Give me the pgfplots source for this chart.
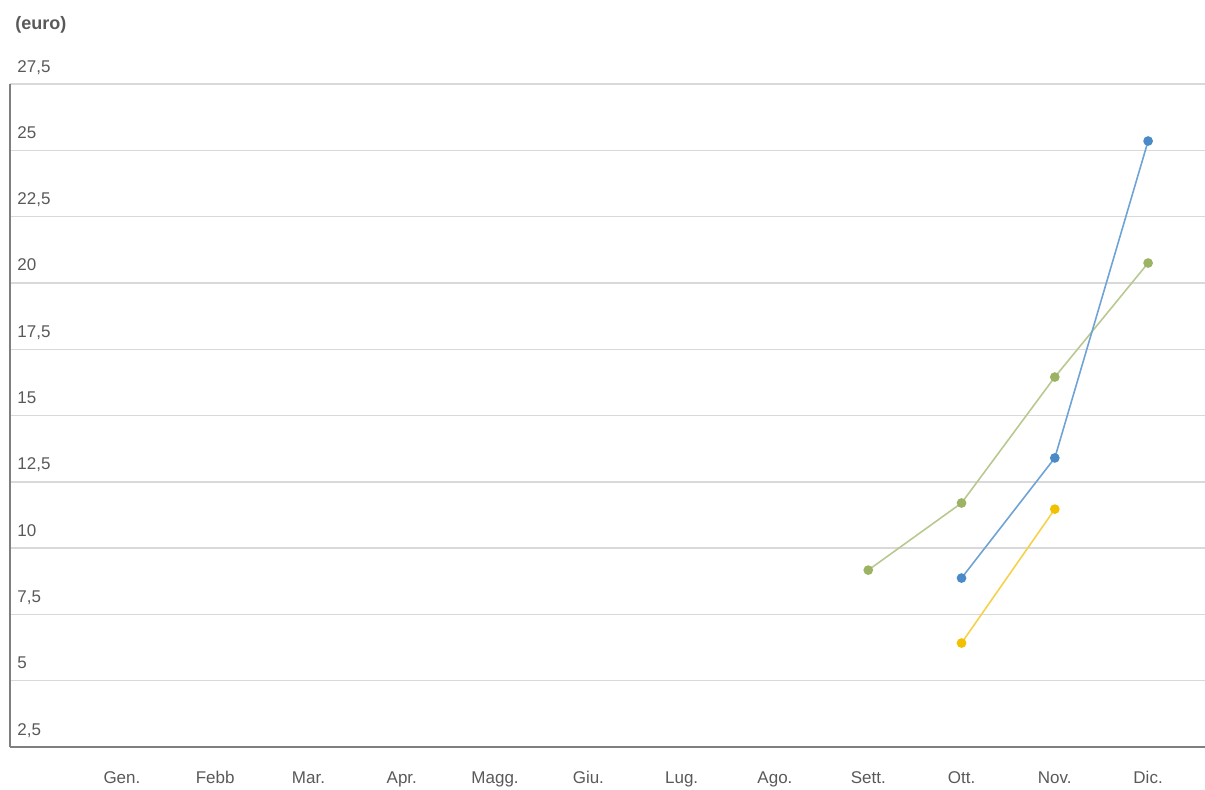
\documentclass[border=0pt]{standalone}
\usepackage{pgfplots}
\pgfplotsset{compat=1.18}
\usepackage{fontspec}
\setmainfont{Liberation Sans}
\definecolor{txt}{HTML}{595959}
\definecolor{grd}{HTML}{D9D9D9}
\definecolor{axl}{HTML}{7F7F7F}
\definecolor{cblue}{HTML}{4A8AC8}
\definecolor{cbluel}{HTML}{6FA3D6}
\definecolor{cgreen}{HTML}{9BB363}
\definecolor{cgreenl}{HTML}{B8C990}
\definecolor{cyel}{HTML}{F2C000}
\definecolor{cyell}{HTML}{F5D24A}
\begin{document}
\begin{tikzpicture}
\path[use as bounding box] (-5pt,-21pt) rectangle (597.5pt,373.5pt);
\begin{axis}[
  at={(0,0)}, anchor=south west,
  scale only axis, width=597.5pt, height=331.5pt,
  xmin=-1.2, xmax=11.61, ymin=2.5, ymax=27.5,
  axis x line=bottom, axis y line=left,
  axis line style={-, draw=axl, line width=0.6pt},
  xtick={0,...,11},
  xticklabels={Gen., Febb, Mar., Apr., Magg., Giu., Lug., Ago., Sett., Ott., Nov., Dic.},
  ytick={2.5,5,...,27.5},
  ymajorgrids, grid style={draw=grd, line width=0.7pt},
  major tick length=0pt,
  tick label style={font=\fontsize{8.5}{10}\selectfont, text=txt, inner sep=0pt},
  xticklabel style={anchor=base, yshift=-18pt},
  yticklabel style={anchor=base west, xshift=3.5pt, yshift=6pt},
  /pgf/number format/use comma,
  /pgf/number format/assume math mode=true,
  clip=false,
]
\addplot[cgreenl, line width=0.8pt, mark=*, mark size=2pt, mark options={fill=cgreen, draw=cgreen}] coordinates {(8,9.17) (9,11.70) (10,16.45) (11,20.75)};
\addplot[cbluel, line width=0.8pt, mark=*, mark size=2pt, mark options={fill=cblue, draw=cblue}] coordinates {(9,8.87) (10,13.40) (11,25.35)};
\addplot[cyell, line width=0.8pt, mark=*, mark size=2pt, mark options={fill=cyel, draw=cyel}] coordinates {(9,6.42) (10,11.47)};
\node[anchor=west, font=\bfseries\fontsize{9}{11}\selectfont, text=txt, inner sep=0pt] at ([xshift=2.5pt,yshift=29.5pt]rel axis cs:0,1) {(euro)};
\end{axis}
\end{tikzpicture}
\end{document}
